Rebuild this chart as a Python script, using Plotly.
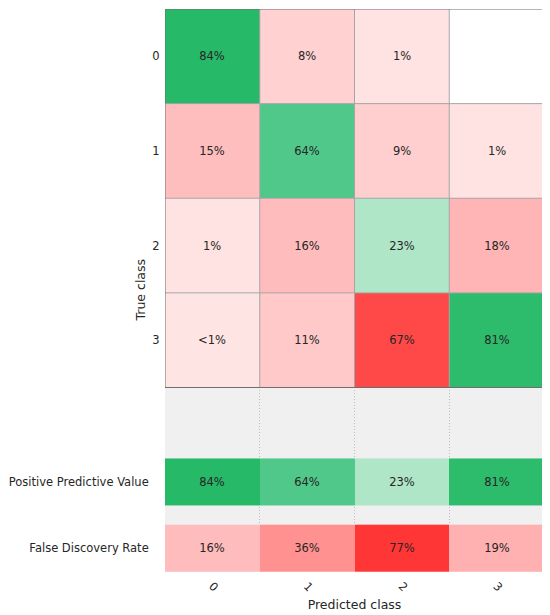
import plotly.graph_objects as go

# ---------------------------------------------------------------------------
# Data (percent, row-normalised)
# ---------------------------------------------------------------------------
classes = ["0", "1", "2", "3"]

# rows = true class, cols = predicted class; 0.4 stands for "<1%", 0 = empty
matrix_pct = [
    [84, 8, 1, 0],
    [15, 64, 9, 1],
    [1, 16, 23, 18],
    [0.4, 11, 67, 81],
]

ppv_pct = [84, 64, 23, 81]
fdr_pct = [16, 36, 77, 19]

summary_labels = ["Positive Predictive Value", "False Discovery Rate"]

# ---------------------------------------------------------------------------
# Layout helpers (row heights in units of one matrix row)
# ---------------------------------------------------------------------------
n = len(classes)
GAP1 = 0.75
ROW_H = 0.5
GAP2 = 0.2
ppv_edges = [n + GAP1, n + GAP1 + ROW_H]
fdr_edges = [ppv_edges[1] + GAP2, ppv_edges[1] + GAP2 + ROW_H]
y_end = fdr_edges[1]

TXT = "#262626"
FONT = "DejaVu Sans"


def label(v):
    if v == 0:
        return ""
    if v < 1:
        return "<1%"
    return f"{v:.0f}%"


def rgb(r, g, b):
    return f"rgb({r},{g},{b})"


# signed values: green (positive) for correct, red (negative) for errors
stops = [
    (-100, rgb(255, 40, 40)),
    (-77, rgb(255, 54, 54)),
    (-67, rgb(255, 72, 72)),
    (-36, rgb(255, 145, 145)),
    (-19, rgb(255, 176, 176)),
    (-17, rgb(255, 186, 186)),
    (-15, rgb(255, 190, 190)),
    (-9, rgb(255, 206, 206)),
    (-1, rgb(255, 226, 226)),
    (-0.3, rgb(255, 228, 228)),
    (0, rgb(255, 255, 255)),
    (0.3, rgb(225, 245, 233)),
    (23, rgb(176, 230, 200)),
    (64, rgb(80, 200, 138)),
    (81, rgb(44, 188, 108)),
    (84, rgb(38, 185, 104)),
    (100, rgb(30, 170, 95)),
]
colorscale = [[(v + 100) / 200, c] for v, c in stops]

matrix_z = [[v if i == j else -v for j, v in enumerate(row)]
            for i, row in enumerate(matrix_pct)]
matrix_txt = [[label(v) for v in row] for row in matrix_pct]

common = dict(
    colorscale=colorscale, zmin=-100, zmax=100, showscale=False,
    texttemplate="%{text}", textfont=dict(size=11.5, color=TXT, family=FONT),
    hoverinfo="skip",
)

fig = go.Figure()
fig.add_trace(go.Heatmap(
    z=matrix_z, x=list(range(n)), y=list(range(n + 1)),
    text=matrix_txt, **common,
))
fig.add_trace(go.Heatmap(
    z=[ppv_pct], x=list(range(n)), y=ppv_edges,
    text=[[label(v) for v in ppv_pct]], **common,
))
fig.add_trace(go.Heatmap(
    z=[[-v for v in fdr_pct]], x=list(range(n)), y=fdr_edges,
    text=[[label(v) for v in fdr_pct]], **common,
))

# cell borders of the confusion matrix
shapes = []
for k in range(1, n):
    shapes.append(dict(type="line", x0=k - 0.5, x1=k - 0.5, y0=0, y1=n,
                       line=dict(color="#a6a6a6", width=1)))
    shapes.append(dict(type="line", x0=-0.5, x1=n - 0.5, y0=k, y1=k,
                       line=dict(color="#a6a6a6", width=1)))
shapes.append(dict(type="rect", x0=-0.5, x1=n - 0.5, y0=0, y1=n,
                   line=dict(color="#6e6e6e", width=1)))

ytick_vals = [i + 0.5 for i in range(n)] + [sum(ppv_edges) / 2, sum(fdr_edges) / 2]
ytick_text = classes + [s + "\u00a0\u00a0\u00a0" for s in summary_labels]

# page body adds an 8px offset, so the figure is 8px smaller each way
fig.update_layout(
    width=542, height=607,
    margin=dict(l=157, r=6, t=1, b=43),
    paper_bgcolor="white",
    plot_bgcolor="#f0f0f0",
    font=dict(family=FONT, size=11.5, color=TXT),
    shapes=shapes,
    xaxis=dict(
        range=[-0.5, n - 0.5], tickvals=list(range(n)), ticktext=classes,
        tickangle=45, showgrid=False, zeroline=False, automargin=False,
        ticks="outside", ticklen=2, tickcolor="rgba(0,0,0,0)",
        minor=dict(tickvals=[k - 0.5 for k in range(n + 1)], showgrid=True,
                   gridcolor="#bdbdbd", griddash="1px,2px", gridwidth=1,
                   ticklen=0),
        title=dict(text="Predicted class", font=dict(size=12.5), standoff=6),
    ),
    yaxis=dict(
        range=[y_end, 0], tickvals=ytick_vals, ticktext=ytick_text,
        showgrid=False, zeroline=False, automargin=False,
        ticks="outside", ticklen=2, tickcolor="rgba(0,0,0,0)",
    ),
    annotations=[dict(
        text="True class", textangle=-90, xref="paper", yref="paper",
        x=(140 - 165) / 379, y=0.5, xanchor="center", yanchor="middle",
        showarrow=False, font=dict(size=12.5, color=TXT, family=FONT),
    )],
)

fig.write_html("out.html")
